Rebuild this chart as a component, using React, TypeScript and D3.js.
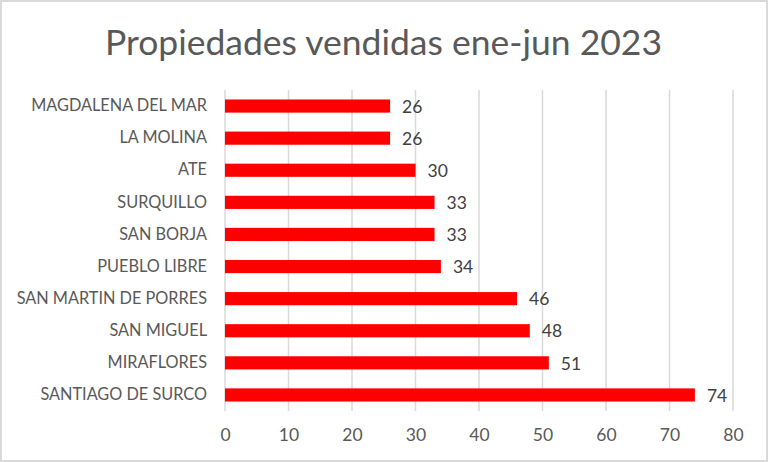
import React, { useEffect, useRef } from 'react';
import * as d3 from 'd3';

const districts = [
  'MAGDALENA DEL MAR',
  'LA MOLINA',
  'ATE',
  'SURQUILLO',
  'SAN BORJA',
  'PUEBLO LIBRE',
  'SAN MARTIN DE PORRES',
  'SAN MIGUEL',
  'MIRAFLORES',
  'SANTIAGO DE SURCO',
];
const sold = [26, 26, 30, 33, 33, 34, 46, 48, 51, 74];
const xTicks = [0, 10, 20, 30, 40, 50, 60, 70, 80];

const W = 768;
const H = 462;
const margin = { top: 90, right: 35, bottom: 51, left: 225 };
const font = 'Lato, "Open Sans", sans-serif';
const textColor = '#595959';

const App: React.FC = () => {
  const svgRef = useRef<SVGSVGElement>(null);

  useEffect(() => {
    const svg = d3.select(svgRef.current);
    svg.selectAll('*').remove();

    const x = d3.scaleLinear().domain([0, 80]).range([margin.left, W - margin.right]);
    const y = d3
      .scaleBand<string>()
      .domain(districts)
      .range([margin.top, H - margin.bottom])
      .paddingInner(0.59)
      .paddingOuter(0.295);

    svg
      .append('rect')
      .attr('x', 1)
      .attr('y', 1)
      .attr('width', W - 2)
      .attr('height', H - 2)
      .attr('fill', '#fff')
      .attr('stroke', '#d9d9d9')
      .attr('stroke-width', 2);

    svg
      .append('text')
      .attr('x', W / 2 - 0.5)
      .attr('y', 55)
      .attr('text-anchor', 'middle')
      .attr('font-family', font)
      .attr('font-size', 35.5)
      .attr('fill', textColor)
      .text('Propiedades vendidas ene-jun 2023');

    // gridlines
    svg
      .append('g')
      .selectAll('line')
      .data(xTicks)
      .join('line')
      .attr('x1', (d) => x(d))
      .attr('x2', (d) => x(d))
      .attr('y1', margin.top)
      .attr('y2', H - margin.bottom)
      .attr('stroke', '#d9d9d9')
      .attr('stroke-width', 1.5);

    const xAxis = d3.axisBottom(x).tickValues(xTicks).tickSize(0).tickPadding(18);
    const gx = svg
      .append('g')
      .attr('transform', `translate(0,${H - margin.bottom})`)
      .call(xAxis);
    gx.select('.domain').remove();
    gx.selectAll('text')
      .attr('font-family', font)
      .attr('font-size', 17.5)
      .attr('fill', textColor);

    const yAxis = d3.axisLeft(y).tickSize(0).tickPadding(18);
    const gy = svg.append('g').attr('transform', `translate(${margin.left},0)`).call(yAxis);
    gy.select('.domain').remove();
    gy.selectAll('text')
      .attr('font-family', font)
      .attr('font-size', 16.3)
      .attr('fill', textColor);

    const rows = districts.map((d, i) => ({ name: d, value: sold[i] }));

    svg
      .append('g')
      .selectAll('rect')
      .data(rows)
      .join('rect')
      .attr('x', x(0))
      .attr('y', (d) => y(d.name) as number)
      .attr('width', (d) => x(d.value) - x(0))
      .attr('height', y.bandwidth())
      .attr('fill', '#ff0000');

    svg
      .append('g')
      .selectAll('text')
      .data(rows)
      .join('text')
      .attr('x', (d) => x(d.value) + 12)
      .attr('y', (d) => (y(d.name) as number) + y.bandwidth() / 2)
      .attr('dy', '0.38em')
      .attr('font-family', font)
      .attr('font-size', 17.5)
      .attr('fill', '#404040')
      .text((d) => d.value);
  }, []);

  return (
    <svg
      ref={svgRef}
      width={W}
      height={H}
      style={{ display: 'block', position: 'absolute', left: 0, top: 0 }}
    />
  );
};

export default App;
